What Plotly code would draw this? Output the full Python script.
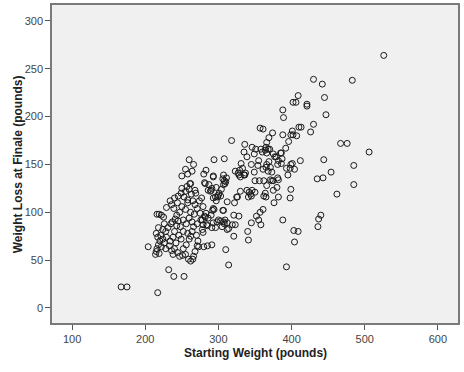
import plotly.graph_objects as go

# Starting weight (pounds) and weight loss at finale (pounds)
start_weight = [
    167, 175, 217, 232, 239, 253, 204,
    215, 219, 214, 216, 218, 220, 222, 217, 221, 224, 226, 215, 228, 229, 216, 219, 225, 222, 229, 226, 218, 224, 228,
    233, 236, 238, 240, 234, 238, 242, 231, 235, 240, 243, 246, 249, 252, 244, 247, 237, 241,
    259, 262, 266, 268, 260, 262, 251, 255, 265, 256, 252, 258, 264, 270, 271, 280, 273, 285, 291, 272,
    245, 248, 252, 256, 260, 264, 266, 243, 239, 234, 236, 244, 250, 255, 258, 262, 267, 247, 240, 245,
    249, 253, 258, 263, 268, 269, 260, 257, 262, 250, 255, 265, 268, 271, 275, 278, 271, 276, 274, 279, 277,
    260, 258, 250, 255, 264, 266, 280, 283, 293, 294, 308, 318, 261, 281,
    282, 287, 286, 290, 297, 291, 289, 297, 300, 304, 299, 303, 301, 296, 293, 312, 306, 294, 290, 293, 307,
    292, 282, 286, 284, 293, 300, 307, 312, 305, 314, 279, 285, 291, 296, 298, 303, 309, 308, 278, 281, 283, 279, 312,
    307, 311, 310, 307, 308, 309, 306, 293, 330, 336, 323, 329, 328, 335, 327, 337, 331, 333, 335, 339, 336, 345,
    321, 328, 323, 319, 321, 325, 322, 330, 339, 342, 346, 344, 350, 341, 345, 326, 340, 341, 310, 314, 345,
    346, 351, 349, 358, 360, 364, 368, 366, 355, 377, 386, 387, 381, 386, 369, 366, 365, 371, 368, 373, 399, 404,
    412, 395, 350, 356, 362, 373, 381, 357, 361, 374, 388, 365, 369, 366, 392, 396, 401, 399, 402, 407, 410,
    370, 375, 379, 385, 382, 401, 398, 393, 354, 361, 349, 371, 375, 382, 366, 380, 399, 364, 375, 362, 382, 398,
    365, 376, 352, 355, 358, 361, 357, 388, 403, 409, 404, 393,
    526, 430, 442, 483, 409, 402, 406, 421, 421, 445, 388, 389, 447, 413, 430, 426, 467, 476, 506, 444, 485,
    454, 435, 443, 485, 462, 440, 437, 436,
]

weight_loss = [
    22, 22, 16, 40, 33, 33, 64,
    59, 57, 56, 62, 66, 70, 64, 74, 76, 72, 68, 78, 62, 74, 98, 98, 95, 97, 105, 88, 84, 82, 80,
    65, 60, 56, 62, 70, 74, 68, 84, 88, 80, 86, 76, 72, 80, 58, 54, 90, 93,
    51, 49, 54, 59, 72, 75, 55, 56, 51, 66, 62, 78, 80, 76, 65, 64, 64, 65, 66, 70,
    91, 85, 92, 88, 94, 90, 85, 97, 104, 112, 108, 110, 106, 103, 110, 100, 98, 100, 115, 117,
    120, 116, 113, 119, 123, 120, 124, 127, 130, 125, 122, 112, 108, 104, 99, 82, 88, 92, 112, 106, 115,
    155, 140, 138, 145, 143, 150, 140, 144, 138, 155, 156, 175, 130, 131,
    130, 129, 123, 123, 126, 125, 122, 112, 118, 124, 116, 117, 120, 116, 115, 111, 102, 103, 97, 104, 102,
    102, 95, 94, 87, 89, 92, 90, 89, 85, 83, 87, 86, 84, 84, 90, 91, 92, 88, 92, 96, 99, 79, 82,
    139, 136, 132, 129, 133, 130, 135, 137, 137, 139, 143, 144, 139, 139, 141, 141, 151, 146, 163, 158, 171, 150,
    97, 96, 87, 87, 75, 116, 110, 122, 123, 121, 123, 119, 121, 116, 117, 116, 80, 71, 61, 45, 89,
    168, 166, 161, 166, 163, 165, 166, 162, 154, 158, 162, 156, 150, 151, 153, 150, 147, 147, 143, 142, 150, 145,
    154, 139, 133, 133, 133, 133, 136, 188, 187, 183, 181, 168, 178, 173, 167, 174, 185, 181, 181, 180, 189,
    166, 161, 158, 162, 154, 151, 146, 146, 149, 145, 142, 134, 133, 134, 128, 126, 124, 120, 123, 117, 116, 115,
    116, 110, 96, 92, 87, 103, 100, 92, 81, 80, 69, 43,
    264, 239, 234, 238, 222, 215, 215, 213, 211, 220, 207, 199, 202, 189, 192, 184, 172, 172, 163, 155, 149,
    142, 135, 136, 129, 119, 97, 93, 85,
]

x_ticks = [100, 200, 300, 400, 500, 600]
y_ticks = [0, 50, 100, 150, 200, 250, 300]

fig = go.Figure(
    go.Scatter(
        x=start_weight,
        y=weight_loss,
        mode="markers",
        marker=dict(symbol="circle-open", size=6, color="#1a1a1a", line=dict(width=1, color="#1a1a1a")),
        hoverinfo="x+y",
    )
)

font_family = "Arial, Liberation Sans, sans-serif"

axis_common = dict(
    showgrid=False,
    zeroline=False,
    showline=True,
    mirror=True,
    linecolor="#7a7a7a",
    linewidth=1.5,
    ticks="outside",
    ticklen=5,
    tickwidth=1,
    tickcolor="#555555",
    tickfont=dict(family=font_family, size=11, color="#444444"),
    automargin=False,
)

fig.update_layout(
    width=464,
    height=372,
    margin=dict(l=52, r=6, t=5, b=49),
    paper_bgcolor="white",
    plot_bgcolor="#F0F0F0",
    showlegend=False,
    xaxis=dict(range=[72.5, 627.5], tickvals=x_ticks, **axis_common),
    yaxis=dict(range=[-15.7, 316.7], tickvals=y_ticks, **axis_common),
    annotations=[
        dict(
            text="<b>Starting Weight (pounds)</b>",
            xref="paper", yref="paper", x=0.5, y=-0.094,
            xanchor="center", yanchor="middle", showarrow=False,
            font=dict(family=font_family, size=12, color="#222222"),
        ),
        dict(
            text="<b>Weight Loss at Finale (pounds)</b>",
            xref="paper", yref="paper", x=-0.083, y=0.5,
            xanchor="center", yanchor="middle", showarrow=False, textangle=-90,
            font=dict(family=font_family, size=12, color="#222222"),
        ),
    ],
)

fig.write_html(
    "out.html",
    config={"displayModeBar": False},
    post_script="document.body.style.margin='0px';document.body.style.overflow='hidden';",
)
